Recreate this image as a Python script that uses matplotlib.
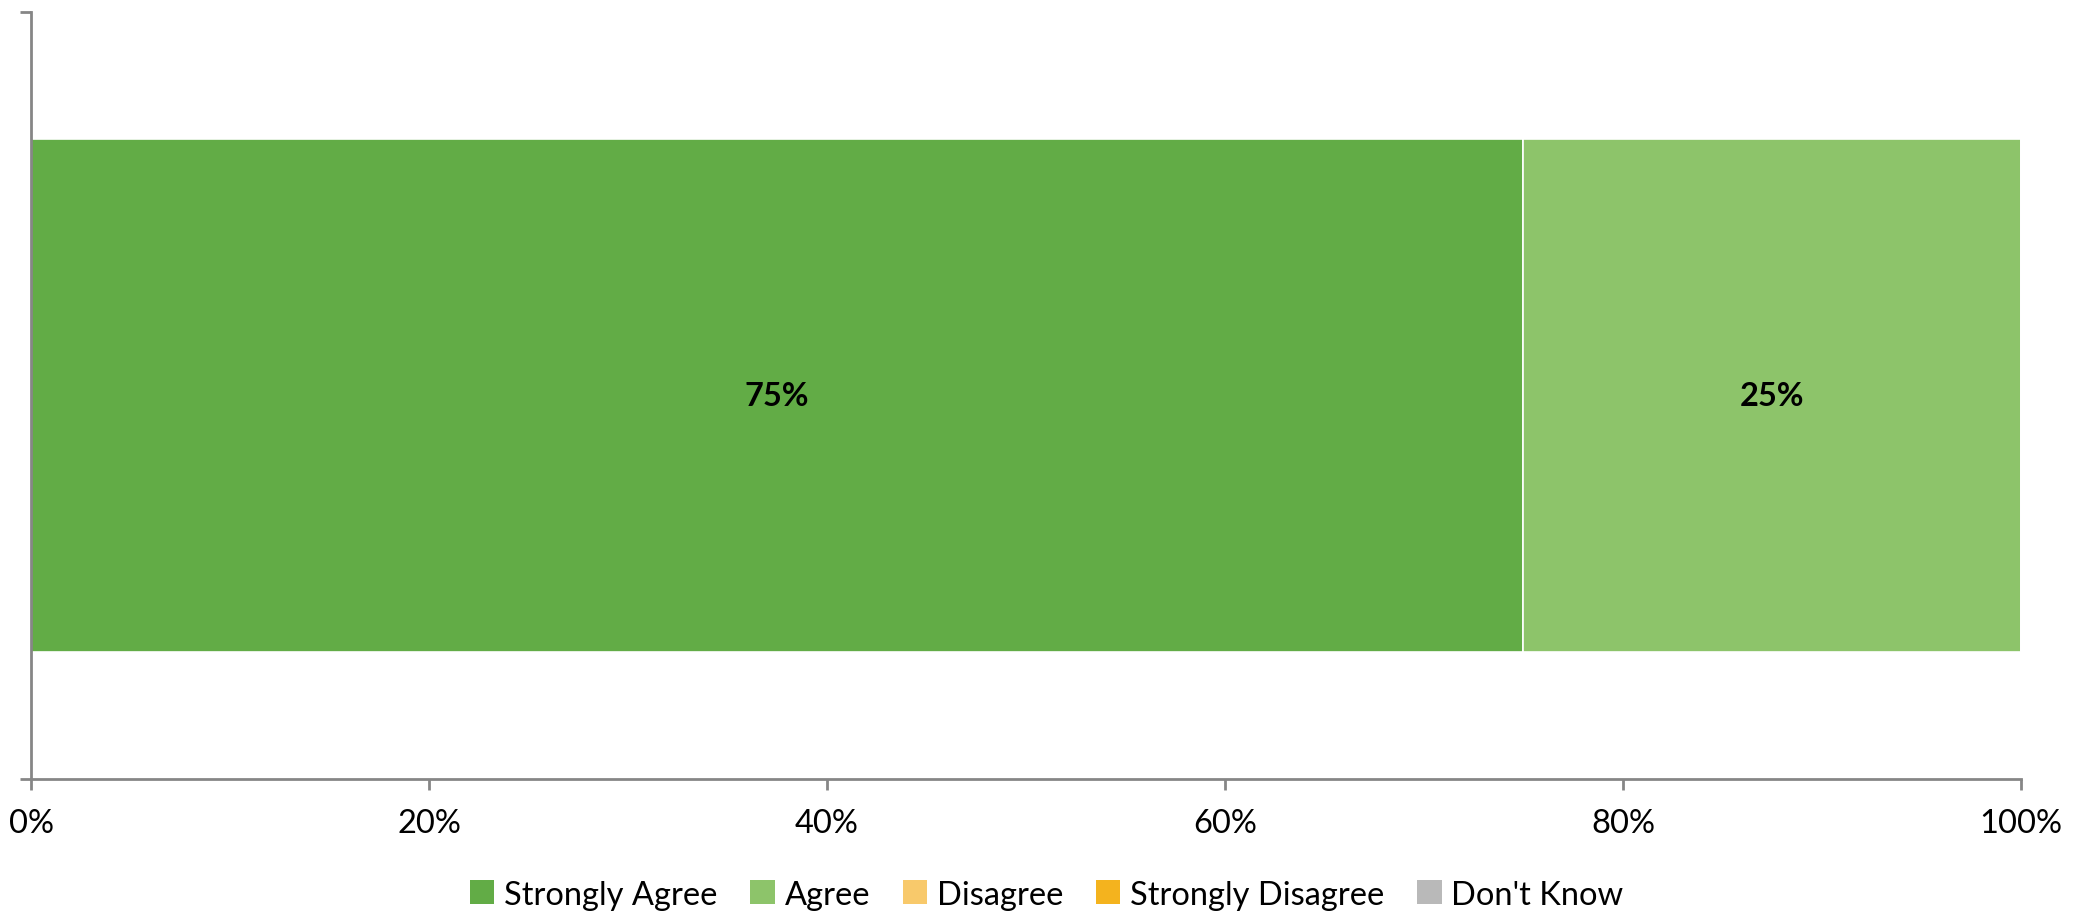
import matplotlib
matplotlib.use("Agg")
import matplotlib.pyplot as plt
from matplotlib.patches import Patch
from matplotlib.ticker import FuncFormatter

categories = [""]
series_names = ["Strongly Agree", "Agree", "Disagree", "Strongly Disagree", "Don't Know"]
series_values = [[75], [25], [0], [0], [0]]
series_colors = ["#62AC46", "#8DC46A", "#F8C96B", "#F4B31E", "#B9B9B9"]
x_ticks = [0, 20, 40, 60, 80, 100]

plt.rcParams['font.family'] = ['Lato', 'DejaVu Sans']

fig = plt.figure(figsize=(20.81, 9.12), dpi=100)
ax = fig.add_axes([0.0149, 0.1447, 0.9562, 0.841])

left = [0] * len(categories)
for name, vals, col in zip(series_names, series_values, series_colors):
    bars = ax.barh(range(len(categories)), vals, left=left, height=0.67,
                   color=col, edgecolor="white", linewidth=1.2, label=name)
    for b, v in zip(bars, vals):
        if v > 0:
            ax.text(b.get_x() + b.get_width() / 2, b.get_y() + b.get_height() / 2,
                    f"{v}%", ha="center", va="center", fontsize=23.5,
                    fontweight="bold", color="black")
    left = [l + v for l, v in zip(left, vals)]

ax.set_xlim(0, 100)
ax.set_ylim(-0.5, 0.5)
ax.set_xticks(x_ticks)
ax.xaxis.set_major_formatter(FuncFormatter(lambda v, p: f"{int(v)}%"))
ax.set_yticks([-0.5, 0.5])
ax.set_yticklabels([])

for s in ["top", "right"]:
    ax.spines[s].set_visible(False)
for s in ["left", "bottom"]:
    ax.spines[s].set_color("#868686")
    ax.spines[s].set_linewidth(2)
ax.tick_params(axis="x", direction="out", length=8, width=2, color="#868686",
               labelsize=23.5, pad=13, labelcolor="black")
ax.tick_params(axis="y", direction="out", length=8, width=2, color="#868686")

handles = [Patch(facecolor=c, edgecolor="none", label=n) for n, c in zip(series_names, series_colors)]
fig.legend(handles=handles, loc="center", bbox_to_anchor=(0.503, 0.018), ncol=5,
           frameon=False, fontsize=23.5, handlelength=0.75, handleheight=0.75,
           handletextpad=0.3, columnspacing=1.0)

fig.savefig("out.png", dpi=100)
